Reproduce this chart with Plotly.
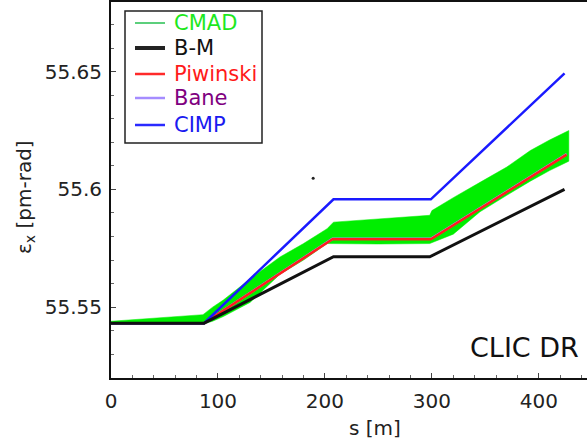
import plotly.graph_objects as go

# ---- data ----
# B-M
bm_s = [0, 87, 208, 298, 424]
bm_e = [55.5432, 55.5432, 55.5714, 55.5714, 55.6000]
# Piwinski
pw_s = [0, 87, 207, 299, 426]
pw_e = [55.5432, 55.5432, 55.5788, 55.5788, 55.6148]
# Bane (coincides with Piwinski)
bn_s = [0, 87, 207, 299, 426]
bn_e = [55.5432, 55.5432, 55.5790, 55.5790, 55.6150]
# CIMP
ci_s = [0, 87, 208, 299, 424]
ci_e = [55.5432, 55.5432, 55.5958, 55.5958, 55.6493]
# CMAD tracking band (upper / lower envelope)
cm_s = [0, 40, 80, 86, 95, 105, 130, 158, 180, 202, 208, 250, 298, 300, 320, 345, 370, 392, 410, 428]
cm_hi = [55.5440, 55.5452, 55.5466, 55.5468, 55.5500, 55.5530, 55.5620, 55.5713, 55.5770, 55.5833,
         55.5861, 55.5875, 55.5890, 55.5910, 55.5965, 55.6030, 55.6095, 55.6165, 55.6210, 55.6250]
cm_lo = [55.5428, 55.5428, 55.5428, 55.5428, 55.5440, 55.5460, 55.5520, 55.5640, 55.5700, 55.5770,
         55.5772, 55.5768, 55.5770, 55.5775, 55.5810, 55.5905, 55.5975, 55.6035, 55.6080, 55.6120]
# stray point
dot_s = [189]
dot_e = [55.6047]

x_ticks = [0, 100, 200, 300, 400]
y_ticks = [55.55, 55.6, 55.65]
y_tick_text = ["55.55", "55.6", "55.65"]

legend_names = ["CMAD", "B-M", "Piwinski", "Bane", "CIMP"]
legend_text_colors = ["#1ee81e", "#111111", "#ff1a1a", "#800080", "#1a1af0"]
legend_line_colors = ["#5ccf7c", "#222222", "#ff2a2a", "#a58cff", "#2a2aff"]
legend_line_widths = [2, 4, 2.5, 2.5, 2.5]

FONT = "DejaVu Sans"
W, H = 587, 442
ML, MR, MT, MB = 111, 0, 2, 64
PW, PH = W - ML - MR, H - MT - MB


def px(x):
    return (x - ML) / PW


def py(y):
    return 1 - (y - MT) / PH


fig = go.Figure()

fig.add_trace(go.Scatter(
    x=cm_s + cm_s[::-1], y=cm_hi + cm_lo[::-1], fill="toself",
    fillcolor="#00ee00", line=dict(width=0.5, color="#00ee00"),
    mode="lines", showlegend=False, hoverinfo="skip", name="CMAD"))
fig.add_trace(go.Scatter(
    x=bn_s, y=bn_e, mode="lines", line=dict(color="#a58cff", width=2.5),
    showlegend=False, name="Bane"))
fig.add_trace(go.Scatter(
    x=pw_s, y=pw_e, mode="lines", line=dict(color="#ff1e1e", width=2.5),
    showlegend=False, name="Piwinski"))
fig.add_trace(go.Scatter(
    x=ci_s, y=ci_e, mode="lines", line=dict(color="#1a1aff", width=2.5),
    showlegend=False, name="CIMP"))
fig.add_trace(go.Scatter(
    x=bm_s, y=bm_e, mode="lines", line=dict(color="#111111", width=3),
    showlegend=False, name="B-M"))
fig.add_trace(go.Scatter(
    x=dot_s, y=dot_e, mode="markers", marker=dict(color="#222", size=3),
    showlegend=False, hoverinfo="skip"))

# manual legend box
shapes = [dict(type="rect", xref="paper", yref="paper",
               x0=px(125), x1=px(262), y0=py(143), y1=py(11),
               line=dict(color="#222", width=1.5), fillcolor="white", layer="above")]
annotations = []
leg_y = [23, 48, 74, 98, 125]
for name, tc, lc, lw, yy in zip(legend_names, legend_text_colors, legend_line_colors,
                                legend_line_widths, leg_y):
    shapes.append(dict(type="line", xref="paper", yref="paper",
                       x0=px(135), x1=px(165), y0=py(yy), y1=py(yy),
                       line=dict(color=lc, width=lw), layer="above"))
    annotations.append(dict(text=name, xref="paper", yref="paper",
                            x=px(172), y=py(yy), xanchor="left", yanchor="middle",
                            showarrow=False, font=dict(family=FONT, size=21, color=tc)))

annotations.append(dict(
    text="CLIC DR", xref="paper", yref="paper", x=px(524), y=py(347),
    xanchor="center", yanchor="middle", showarrow=False,
    font=dict(family=FONT, size=27, color="#111")))
annotations.append(dict(
    text="s [m]", xref="paper", yref="paper", x=px(375), y=py(428),
    xanchor="center", yanchor="middle", showarrow=False,
    font=dict(family=FONT, size=20, color="#222")))
annotations.append(dict(
    text="ε<sub>x</sub> [pm-rad]", xref="paper", yref="paper", x=px(25), y=py(197),
    xanchor="center", yanchor="middle", showarrow=False, textangle=-90,
    font=dict(family=FONT, size=20, color="#222")))

fig.update_layout(
    width=W, height=H,
    margin=dict(l=ML, r=MR, t=MT, b=MB),
    paper_bgcolor="white", plot_bgcolor="white",
    font=dict(family=FONT, size=20, color="#222"),
    showlegend=False,
    shapes=shapes,
    annotations=annotations,
    xaxis=dict(
        range=[0, 445], tickvals=x_ticks, ticks="inside", ticklen=5,
        tickwidth=1, tickcolor="#444",
        minor=dict(dtick=20, ticks="inside", ticklen=3, tickcolor="#666"),
        showline=True, linecolor="#111", linewidth=2, mirror=True,
        showgrid=False, zeroline=False, automargin=False,
        ticklabelstandoff=4,
        tickfont=dict(size=20, color="#222")),
    yaxis=dict(
        range=[55.5199, 55.6796], tickvals=y_ticks, ticktext=y_tick_text,
        ticks="inside", ticklen=5, tickwidth=1, tickcolor="#444",
        minor=dict(dtick=0.01, tick0=55.5, ticks="inside", ticklen=3, tickcolor="#666"),
        showline=True, linecolor="#111", linewidth=2, mirror=False,
        showgrid=False, zeroline=False, automargin=False,
        ticklabelstandoff=3,
        tickfont=dict(size=20, color="#222")),
)

fig.write_html(
    "out.html",
    config={"displayModeBar": False},
    post_script="document.body.style.margin='0';document.body.style.overflow='hidden';",
)
